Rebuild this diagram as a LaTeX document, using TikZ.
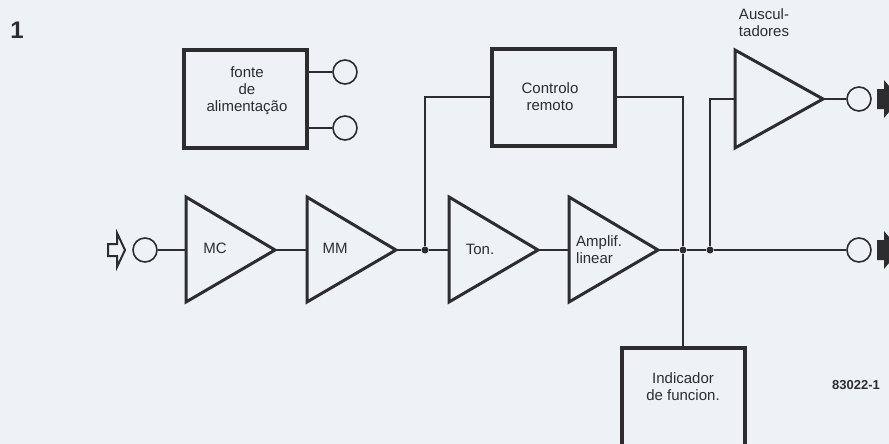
\documentclass[tikz,border=0pt]{standalone}
\usepackage{fontspec}
\setmainfont{Liberation Sans}
\definecolor{bg}{RGB}{238,242,244}
\definecolor{ink}{RGB}{45,45,48}
\begin{document}
\begin{tikzpicture}[x=1pt,y=-1pt,
  box/.style={draw=ink,line width=3.4pt,fill=none},
  amp/.style={draw=ink,line width=3pt,line join=miter},
  wire/.style={draw=ink,line width=1.7pt},
  jack/.style={circle,draw=ink,line width=1.6pt,minimum size=24pt,inner sep=0pt},
  lbl/.style={text=ink,font=\fontsize{15}{17}\selectfont,align=center,inner sep=0pt},
  dot/.style={circle,fill=ink,inner sep=0pt,minimum size=7pt}]
\fill[bg] (0,0) rectangle (889,444);
\useasboundingbox (0,0) rectangle (889,444);
\node[text=ink,font=\fontsize{24}{26}\selectfont\bfseries] (num) at (17,30) {1};
% power supply
\draw[box] (184,50) rectangle (307,148);
\node[lbl] (fonte) at (247,91) {fonte\\de\\alimentação};
\node[jack] (j1) at (345,72) {};
\node[jack] (j2) at (345,128) {};
\coordinate (f1) at (307,72);
\coordinate (f2) at (307,128);
\draw[wire] (f1) -- (j1.west);
\draw[wire] (f2) -- (j2.west);
% input
\draw[ink,line width=2pt,line join=miter] (108,244)--(117,244)--(117,233)--(125,250)--(117,267)--(117,256)--(108,256)--cycle;
\node[jack] (jin) at (145,250) {};
% amplifiers
\draw[amp] (186,197) -- (275,250) -- (186,302) -- cycle;
\node[lbl] (mc) at (215,248) {MC};
\draw[amp] (307,197) -- (396,250) -- (307,302) -- cycle;
\node[lbl] (mm) at (335,248) {MM};
\draw[amp] (449,197) -- (538,250) -- (449,302) -- cycle;
\node[lbl] (ton) at (480,249) {Ton.};
\draw[amp] (569,197) -- (658,250) -- (569,302) -- cycle;
\node[lbl,align=left,anchor=west] (lin) at (576,250) {Amplif.\\linear};
\draw[amp] (735,50) -- (823,99) -- (735,148) -- cycle;
\node[lbl] (aus) at (764,23) {Auscul-\\tadores};
\coordinate (mcL) at (186,250); \coordinate (mcR) at (275,250);
\coordinate (mmL) at (307,250); \coordinate (mmR) at (396,250);
\coordinate (tonL) at (449,250); \coordinate (tonR) at (538,250);
\coordinate (linL) at (569,250); \coordinate (linR) at (658,250);
\coordinate (ausL) at (735,99); \coordinate (ausR) at (823,99);
% boxes
\draw[box] (492,49) rectangle (615,146);
\node[lbl] (crem) at (550,97) {Controlo\\remoto};
\coordinate (cremL) at (492,97); \coordinate (cremR) at (615,97);
\draw[box] (622,348) rectangle (745,452);
\node[lbl] (ind) at (683,387) {Indicador\\de funcion.};
\coordinate (indT) at (683,348);
% junctions
\node[dot] (d1) at (425,250) {};
\node[dot] (d2) at (683,250) {};
\node[dot] (d3) at (710,250) {};
% outputs
\node[jack] (jo1) at (859,99) {};
\node[jack] (jo2) at (859,250) {};
\fill[ink] (877,89)--(884,89)--(884,80)--(900,99)--(884,118)--(884,109)--(877,109)--cycle;
\fill[ink] (877,240)--(884,240)--(884,231)--(900,250)--(884,269)--(884,260)--(877,260)--cycle;
% wires
\draw[wire] (jin.east) -- (mcL);
\draw[wire] (mcR) -- (mmL);
\draw[wire] (mmR) -- (d1) -- (tonL);
\draw[wire] (tonR) -- (linL);
\draw[wire] (linR) -- (d2) -- (d3) -- (jo2.west);
\draw[wire] (d1) |- (cremL);
\draw[wire] (cremR) -| (d2);
\draw[wire] (d2) -- (indT);
\draw[wire] (d3) |- (ausL);
\draw[wire] (ausR) -- (jo1.west);
\node[text=ink,font=\fontsize{13}{15}\selectfont\bfseries] (code) at (856,385) {83022-1};
\end{tikzpicture}
\end{document}
